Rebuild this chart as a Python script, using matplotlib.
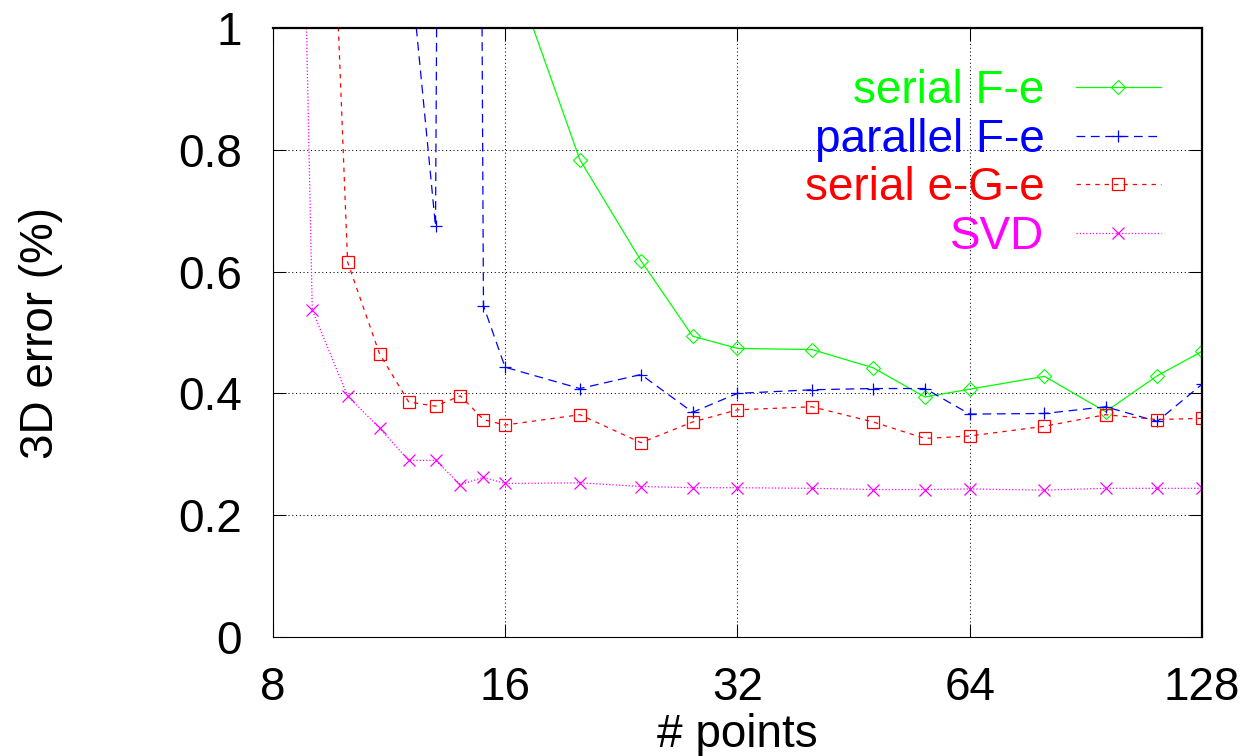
import matplotlib
matplotlib.use("Agg")
import matplotlib.pyplot as plt

plt.rcParams["font.family"] = ["Liberation Sans", "DejaVu Sans"]

# Number of points used for each estimate
n_svd = [8, 9, 10, 11, 12, 13, 14, 15, 16, 20, 24, 28, 32, 40, 48, 56, 64, 80, 96, 112, 128]
n_egE = [9, 10, 11, 12, 13, 14, 15, 16, 20, 24, 28, 32, 40, 48, 56, 64, 80, 96, 112, 128]
n_par = [12, 13, 14, 15, 16, 20, 24, 28, 32, 40, 48, 56, 64, 80, 96, 112, 128]
n_ser = [16, 20, 24, 28, 32, 40, 48, 56, 64, 80, 96, 112, 128]

# 3D reconstruction error (%)
err_serial_fe = [1.13, 0.784, 0.618, 0.494, 0.474, 0.472, 0.442, 0.394, 0.407,
                 0.428, 0.370, 0.429, 0.469]
err_parallel_fe = [1.13, 0.675, 8.0, 0.544, 0.443, 0.408, 0.431, 0.369, 0.400,
                   0.406, 0.408, 0.408, 0.366, 0.367, 0.378, 0.354, 0.415]
err_serial_ege = [2.09, 0.616, 0.465, 0.386, 0.379, 0.396, 0.357, 0.348, 0.365,
                  0.319, 0.353, 0.373, 0.378, 0.353, 0.326, 0.330, 0.346, 0.365,
                  0.357, 0.359]
err_svd = [3.7, 0.537, 0.396, 0.343, 0.290, 0.290, 0.250, 0.262, 0.252, 0.253,
           0.247, 0.245, 0.245, 0.244, 0.242, 0.242, 0.243, 0.241, 0.244, 0.244,
           0.244]

labels = ["serial F-e", "parallel F-e", "serial e-G-e", "SVD"]
x_ticks = [8, 16, 32, 64, 128]
y_ticks = [0, 0.2, 0.4, 0.6, 0.8, 1]
y_tick_labels = ["0", "0.2", "0.4", "0.6", "0.8", "1"]

FS = 33

fig = plt.figure(figsize=(12.47, 7.56), dpi=100)
W, H = 1247, 756
x0, x1, y0, y1 = 272.8, 1202.0, 28.3, 636.8
ax = fig.add_axes([x0 / W, 1 - y1 / H, (x1 - x0) / W, (y1 - y0) / H])

ax.set_xscale("log", base=2)
ax.set_xlim(8, 128)
ax.set_ylim(0, 1)

# grid first so curves sit on top
ax.set_axisbelow(True)
ax.grid(True, color="black", linestyle=(0, (1, 2.6)), linewidth=0.75)

lw = 0.9
ax.plot(n_ser, err_serial_fe, color="#00ff00", linestyle="-", linewidth=lw,
        marker="D", markersize=6.8, markerfacecolor="none",
        markeredgewidth=0.8, label=labels[0])
ax.plot(n_par, err_parallel_fe, color="#0000ff", linestyle=(0, (7, 4.5)),
        linewidth=lw, marker="+", markersize=9, markeredgewidth=0.9,
        label=labels[1])
ax.plot(n_egE, err_serial_ege, color="#ff0000", linestyle=(0, (3.5, 4)),
        linewidth=lw, marker="s", markersize=9.2, markerfacecolor="none",
        markeredgewidth=0.9, label=labels[2])
ax.plot(n_svd, err_svd, color="#ff00ff", linestyle=(0, (1, 1.6)),
        linewidth=lw, marker="x", markersize=9, markeredgewidth=0.9,
        label=labels[3])

ax.set_xticks(x_ticks)
ax.set_xticklabels([str(v) for v in x_ticks])
ax.xaxis.set_minor_locator(matplotlib.ticker.NullLocator())
ax.set_yticks(y_ticks)
ax.set_yticklabels(y_tick_labels)

ax.tick_params(which="both", direction="in", length=9.4, width=0.75,
               top=True, right=True, labelsize=FS)
ax.tick_params(axis="x", pad=21)
ax.tick_params(axis="y", pad=22)

for side in ("left", "bottom"):
    ax.spines[side].set_linewidth(0.8)
for side in ("top", "right"):
    ax.spines[side].set_linewidth(1.6)

ax.set_xlabel("# points", fontsize=FS, labelpad=2)
ax.set_ylabel("3D error (%)", fontsize=FS, labelpad=83)

leg = ax.legend(loc="upper right",
                bbox_to_anchor=(1161 / W, 1 - 69 / H),
                bbox_transform=fig.transFigure,
                frameon=False, markerfirst=False, fontsize=FS,
                handlelength=1.86, handletextpad=0.68, labelspacing=0.1,
                borderpad=0, borderaxespad=0, numpoints=1,
                labelcolor="linecolor")

fig.savefig("out.png", dpi=100)
